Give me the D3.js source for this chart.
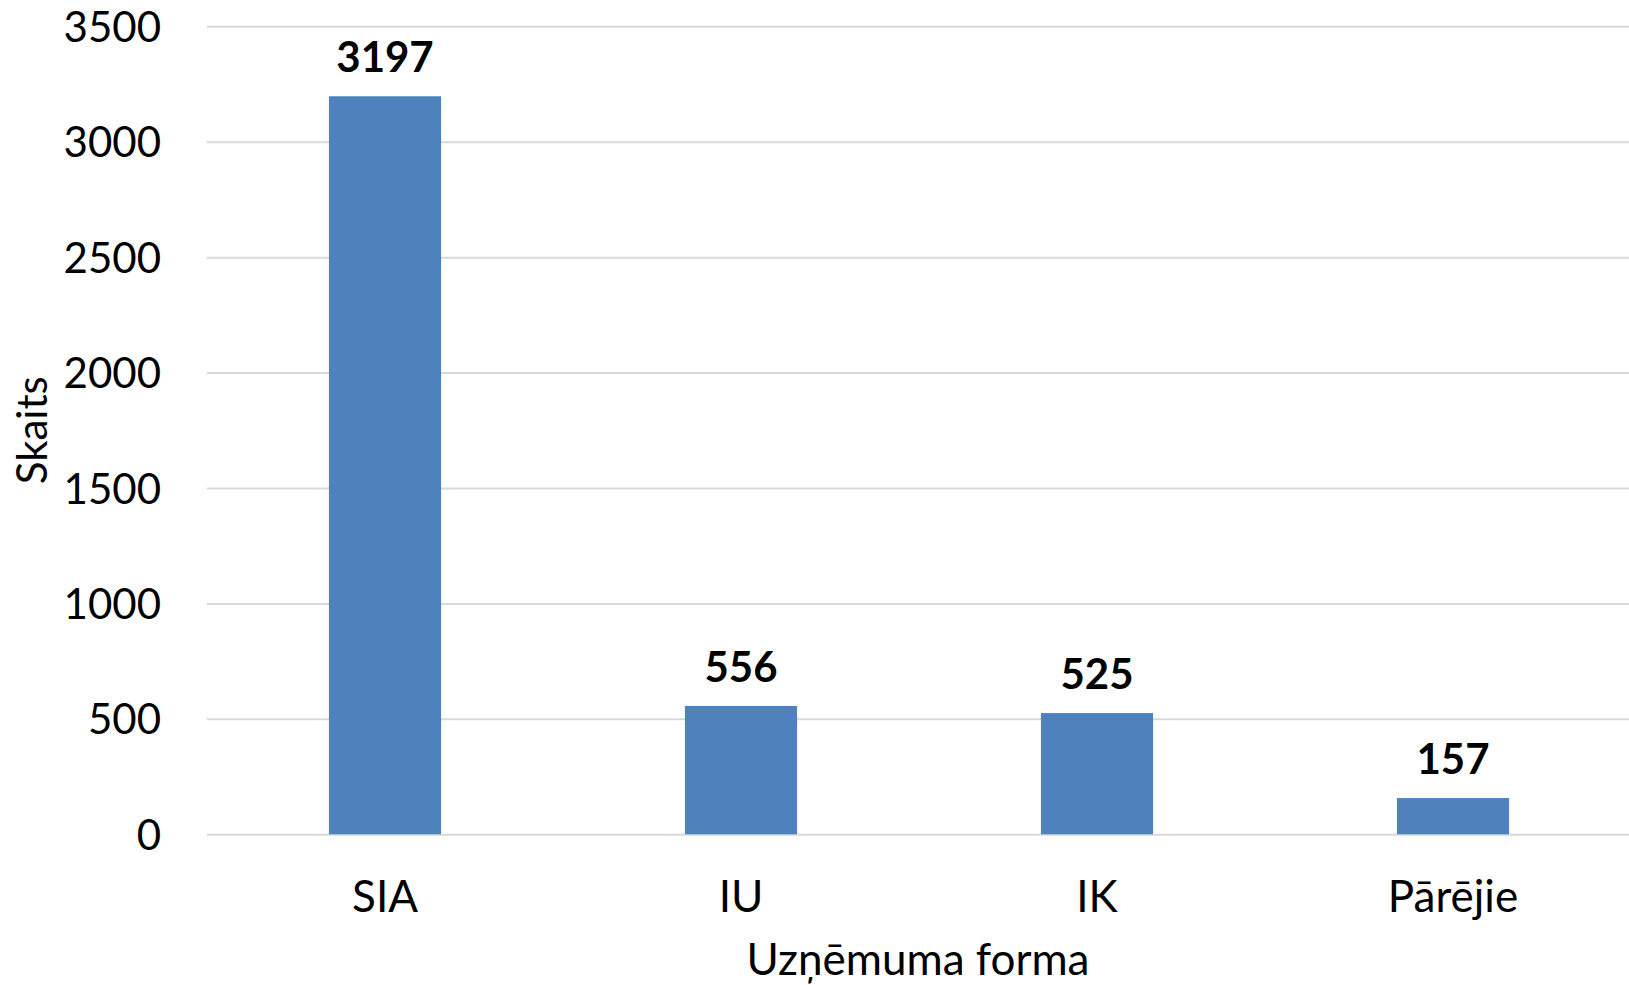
<!DOCTYPE html>
<html>
<head>
<meta charset="utf-8">
<script src="https://cdn.jsdelivr.net/npm/d3@7"></script>
<style>
  html, body { margin: 0; padding: 0; background: #fff; }
  svg { display: block; }
  text { font-family: Lato, "Open Sans", sans-serif; fill: #000; }
</style>
</head>
<body>
<svg id="chart" width="1629" height="985"></svg>
<script>
const categories = ["SIA", "IU", "IK", "Pārējie"];
const values = [3197, 556, 525, 157];
const yTicks = [0, 500, 1000, 1500, 2000, 2500, 3000, 3500];
const xTitle = "Uzņēmuma forma";
const yTitle = "Skaits";

const FONT = "Lato, 'Open Sans', sans-serif";
const plot = { left: 207, right: 1631, top: 26.3, bottom: 834.3 };

const svg = d3.select("#chart");

const x = d3.scaleBand()
  .domain(categories)
  .range([plot.left, plot.right])
  .paddingInner(0.685)
  .paddingOuter(0.3425);

const y = d3.scaleLinear()
  .domain([0, 3500])
  .range([plot.bottom, plot.top]);

// Y axis with gridlines
const yAxis = d3.axisLeft(y)
  .tickValues(yTicks)
  .tickFormat(d3.format("d"))
  .tickSizeInner(-(plot.right - plot.left))
  .tickSizeOuter(0)
  .tickPadding(46);

const gy = svg.append("g")
  .attr("transform", `translate(${plot.left},0)`)
  .call(yAxis);
gy.select(".domain").remove();
gy.selectAll(".tick line").attr("stroke", "#d9d9d9").attr("stroke-width", 2);
gy.selectAll(".tick text")
  .attr("font-size", 42)
  .attr("dy", "0.36em")
  .style("font-family", FONT)
  .attr("fill", "#000");

// Bars
svg.append("g").selectAll("rect")
  .data(values)
  .join("rect")
  .attr("x", (d, i) => x(categories[i]))
  .attr("width", x.bandwidth())
  .attr("y", d => y(d))
  .attr("height", d => y(0) - y(d))
  .attr("fill", "#4f81bd");

// Value labels
svg.append("g").selectAll("text")
  .data(values)
  .join("text")
  .attr("x", (d, i) => x(categories[i]) + x.bandwidth() / 2)
  .attr("y", d => y(d) - 24)
  .attr("text-anchor", "middle")
  .attr("font-size", 42)
  .attr("font-weight", "bold")
  .text(d => d);

// X axis
const xAxis = d3.axisBottom(x).tickSize(0).tickPadding(0);
const gx = svg.append("g")
  .attr("transform", `translate(0,${plot.bottom})`)
  .call(xAxis);
gx.select(".domain").remove();
gx.selectAll(".tick text")
  .attr("y", 77.4)
  .attr("dy", 0)
  .attr("font-size", 44)
  .style("font-family", FONT)
  .attr("fill", "#000");

// Axis titles
svg.append("text")
  .attr("x", (plot.left + 1629) / 2)
  .attr("y", 974.5)
  .attr("text-anchor", "middle")
  .attr("font-size", 44)
  .text(xTitle);

svg.append("text")
  .attr("transform", `translate(46.5,${(plot.top + plot.bottom) / 2}) rotate(-90)`)
  .attr("text-anchor", "middle")
  .attr("font-size", 42)
  .text(yTitle);
</script>
</body>
</html>
